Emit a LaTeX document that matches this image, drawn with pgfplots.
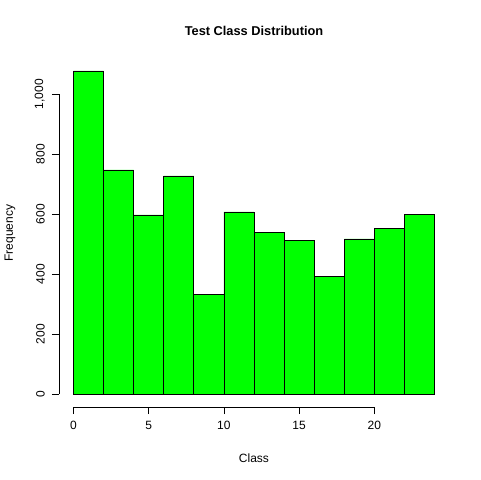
\documentclass[border=0pt]{standalone}
\usepackage{pgfplots}
\pgfplotsset{compat=1.18}
\usepackage{fontspec}
\setmainfont{Liberation Sans}
\begin{document}
\begin{tikzpicture}[x=0.75pt,y=0.75pt]
\useasboundingbox (0,0) rectangle (480,480);
\begin{axis}[at={(59pt*0.75,73pt*0.75)},anchor=south west,
  scale only axis, width=292.5pt, height=261.75pt,
  xmin=-0.96, xmax=24.96, ymin=-43.08, ymax=1120.08,
  axis line style={draw=none},
  tick align=outside, major tick length=5.25pt,
  tick style={black, line width=0.6pt},
  xtick={0,5,10,15,20}, ytick={0,200,400,600,800,1000},
  xtick pos=bottom, ytick pos=left,
  ticklabel style={font=\fontsize{9}{10}\selectfont},
  /pgf/number format/assume math mode=true,
  yticklabel style={rotate=90, anchor=south, yshift=2pt},
  xticklabel style={yshift=-2pt},
  clip=false]
\addplot[ybar interval, fill=green, draw=black, line width=0.5pt] coordinates {
(0,1077)(2,747)(4,597)(6,727)(8,333)(10,607)(12,540)(14,513)(16,393)(18,517)(20,553)(22,600)(24,600)};
\draw[line width=0.6pt] (axis cs:0,-43.08) -- (axis cs:20,-43.08);
\draw[line width=0.6pt] (axis cs:-0.96,0) -- (axis cs:-0.96,1000);
\end{axis}
\node[font=\bfseries\fontsize{9.6}{11}\selectfont] at (254,449) {Test Class Distribution};
\node[font=\fontsize{9}{10}\selectfont] at (254,22) {Class};
\node[font=\fontsize{9}{10}\selectfont, rotate=90] at (10,247) {Frequency};
\end{tikzpicture}
\end{document}
